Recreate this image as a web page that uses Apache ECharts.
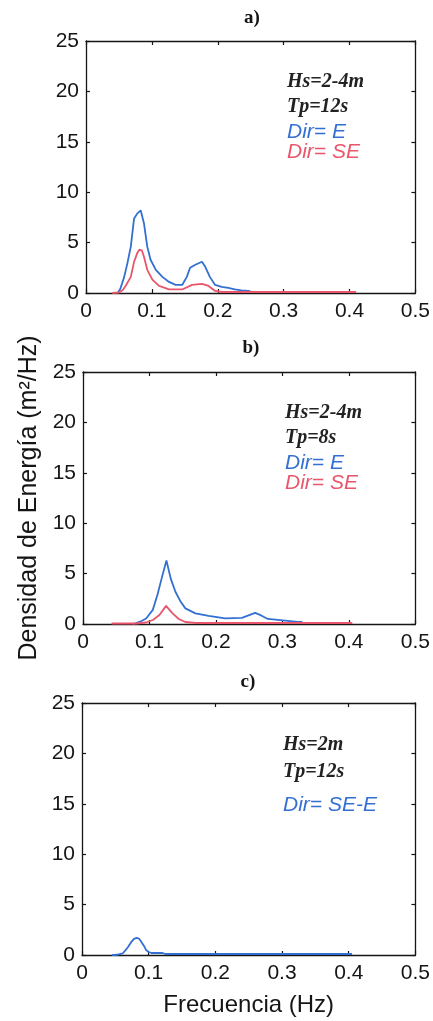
<!DOCTYPE html>
<html>
<head>
<meta charset="utf-8">
<script src="https://cdn.jsdelivr.net/npm/echarts@6/dist/echarts.min.js"></script>
<style>
  html, body { margin: 0; padding: 0; background: #fff; }
  #chart { width: 433px; height: 1021px; }
</style>
</head>
<body>
<div id="chart"></div>
<script>
// Wave energy spectra for three sea states (frequency in Hz, density in m²/Hz)

// Panel a) Hs=2-4m, Tp=12s
const freqA_E  = [0.048, 0.052, 0.058, 0.063, 0.068, 0.073, 0.078, 0.083, 0.088, 0.093, 0.098, 0.106, 0.116, 0.126, 0.136, 0.146, 0.153, 0.158, 0.166, 0.176, 0.181, 0.188, 0.196, 0.206, 0.216, 0.226, 0.236, 0.246, 0.250];
const densA_E  = [0, 0.4, 1.6, 3.0, 4.6, 7.4, 7.9, 8.2, 6.9, 4.6, 3.3, 2.3, 1.6, 1.1, 0.8, 0.8, 1.6, 2.5, 2.8, 3.1, 2.6, 1.6, 0.8, 0.6, 0.5, 0.35, 0.25, 0.2, 0.15];
const freqA_SE = [0.040, 0.050, 0.056, 0.061, 0.068, 0.073, 0.078, 0.081, 0.085, 0.088, 0.093, 0.101, 0.111, 0.126, 0.146, 0.161, 0.176, 0.186, 0.196, 0.206, 0.250, 0.300, 0.350, 0.410];
const densA_SE = [0, 0.05, 0.3, 0.8, 1.6, 3.1, 4.0, 4.3, 4.2, 3.6, 2.3, 1.3, 0.7, 0.35, 0.35, 0.8, 0.9, 0.7, 0.2, 0.1, 0.1, 0.1, 0.1, 0.1];

// Panel b) Hs=2-4m, Tp=8s
const freqB_E  = [0.075, 0.080, 0.088, 0.095, 0.105, 0.112, 0.119, 0.1255, 0.132, 0.139, 0.147, 0.154, 0.169, 0.189, 0.214, 0.239, 0.251, 0.259, 0.268, 0.278, 0.293, 0.308, 0.323, 0.330];
const densB_E  = [0, 0.1, 0.3, 0.55, 1.4, 2.9, 4.7, 6.3, 4.5, 3.2, 2.2, 1.55, 1.05, 0.8, 0.55, 0.6, 0.9, 1.1, 0.85, 0.5, 0.4, 0.3, 0.2, 0.2];
const freqB_SE = [0.043, 0.080, 0.095, 0.105, 0.115, 0.125, 0.134, 0.144, 0.154, 0.170, 0.250, 0.330, 0.405];
const densB_SE = [0.05, 0.05, 0.15, 0.4, 0.9, 1.8, 1.1, 0.5, 0.2, 0.1, 0.1, 0.1, 0.1];

// Panel c) Hs=2m, Tp=12s
const freqC    = [0.045, 0.049, 0.055, 0.061, 0.065, 0.069, 0.074, 0.078, 0.082, 0.086, 0.089, 0.093, 0.096, 0.100, 0.104, 0.110, 0.120, 0.125, 0.200, 0.300, 0.405];
const densC    = [0, 0, 0.05, 0.15, 0.45, 0.8, 1.3, 1.6, 1.7, 1.6, 1.3, 0.9, 0.5, 0.3, 0.2, 0.2, 0.2, 0.1, 0.1, 0.1, 0.1];

// Axis ranges and panel labels
const xTicks = [0, 0.1, 0.2, 0.3, 0.4, 0.5];
const yTicks = [0, 5, 10, 15, 20, 25];
const panelTitles = ['a)', 'b)', 'c)'];
const notesA = ['Hs=2-4m', 'Tp=12s', 'Dir= E', 'Dir= SE'];
const notesB = ['Hs=2-4m', 'Tp=8s', 'Dir= E', 'Dir= SE'];
const notesC = ['Hs=2m', 'Tp=12s', 'Dir= SE-E'];

const BLUE = '#3470d2';
const RED = '#e9566c';
const INK = '#151515';
const SANS = '"Liberation Sans", Arial, sans-serif';
const SERIF = '"Liberation Serif", "Times New Roman", serif';

const grids = [
  { left: 86, top: 41, width: 334, height: 252 },
  { left: 83, top: 372, width: 336, height: 252 },
  { left: 82, top: 703, width: 336, height: 252 }
];

const zip = (xs, ys) => xs.map((x, i) => [x, ys[i]]);

const xAxes = [];
const yAxes = [];
grids.forEach((g, i) => {
  const common = {
    gridIndex: i,
    type: 'value',
    axisLine: { show: true, onZero: false, lineStyle: { color: INK, width: 1.3 } },
    axisTick: { show: true, inside: true, length: 4, lineStyle: { color: INK, width: 1.2 } },
    splitLine: { show: false }
  };
  xAxes.push(Object.assign({}, common, {
    position: 'bottom',
    min: xTicks[0], max: xTicks[xTicks.length - 1], interval: xTicks[1] - xTicks[0],
    axisLabel: { show: true, color: INK, fontSize: 21, fontFamily: SANS, margin: 8,
                 formatter: v => String(Math.round(v * 10) / 10) },
    name: i === 2 ? 'Frecuencia (Hz)' : '',
    nameLocation: 'middle',
    nameGap: 38,
    nameTextStyle: { color: INK, fontSize: 24, fontFamily: SANS }
  }));
  xAxes.push(Object.assign({}, common, {
    position: 'top',
    min: xTicks[0], max: xTicks[xTicks.length - 1], interval: xTicks[1] - xTicks[0],
    axisLabel: { show: false }
  }));
  yAxes.push(Object.assign({}, common, {
    position: 'left',
    min: yTicks[0], max: yTicks[yTicks.length - 1], interval: yTicks[1] - yTicks[0],
    axisLabel: { show: true, color: INK, fontSize: 21, fontFamily: SANS, margin: 7 },
    name: i === 1 ? 'Densidad de Energía (m²/Hz)' : '',
    nameLocation: 'middle',
    nameGap: 39,
    nameTextStyle: { color: INK, fontSize: 25, fontFamily: SANS }
  }));
  yAxes.push(Object.assign({}, common, {
    position: 'right',
    min: yTicks[0], max: yTicks[yTicks.length - 1], interval: yTicks[1] - yTicks[0],
    axisLabel: { show: false }
  }));
});

function line(name, xs, ys, color, panel) {
  return {
    name: name,
    type: 'line',
    xAxisIndex: panel * 2,
    yAxisIndex: panel * 2,
    data: zip(xs, ys),
    showSymbol: false,
    symbol: 'none',
    lineStyle: { color: color, width: 1.8 },
    itemStyle: { color: color },
    animation: false
  };
}

const series = [
  line('Dir= E', freqA_E, densA_E, BLUE, 0),
  line('Dir= SE', freqA_SE, densA_SE, RED, 0),
  line('Dir= E', freqB_E, densB_E, BLUE, 1),
  line('Dir= SE', freqB_SE, densB_SE, RED, 1),
  line('Dir= SE-E', freqC, densC, BLUE, 2)
];

// Panel letters and in-plot annotations
const graphics = [];
const titlePos = [[252, 18], [251, 348], [248, 682]];
panelTitles.forEach((t, i) => {
  graphics.push({
    type: 'text', x: titlePos[i][0], y: titlePos[i][1],
    style: { text: t, font: 'bold 19px ' + SERIF, fill: INK, align: 'center', verticalAlign: 'middle' }
  });
});

function note(text, x, y, kind) {
  const font = kind === 'serif' ? 'italic bold 20px ' + SERIF : 'italic 21px ' + SANS;
  const fill = kind === 'serif' ? '#222' : (kind === 'blue' ? BLUE : RED);
  graphics.push({
    type: 'text', x: x, y: y,
    style: { text: text, font: font, fill: fill, align: 'left', verticalAlign: 'middle' }
  });
}
note(notesA[0], 287, 82, 'serif');
note(notesA[1], 287, 107, 'serif');
note(notesA[2], 287, 132, 'blue');
note(notesA[3], 287, 152, 'red');
note(notesB[0], 285, 413, 'serif');
note(notesB[1], 285, 438, 'serif');
note(notesB[2], 285, 463, 'blue');
note(notesB[3], 285, 483, 'red');
note(notesC[0], 283, 745, 'serif');
note(notesC[1], 283, 772, 'serif');
note(notesC[2], 283, 805, 'blue');

const chart = echarts.init(document.getElementById('chart'), null, { renderer: 'canvas' });
chart.setOption({
  backgroundColor: '#ffffff',
  animation: false,
  grid: grids,
  xAxis: xAxes,
  yAxis: yAxes,
  series: series,
  graphic: graphics
});
</script>
</body>
</html>
